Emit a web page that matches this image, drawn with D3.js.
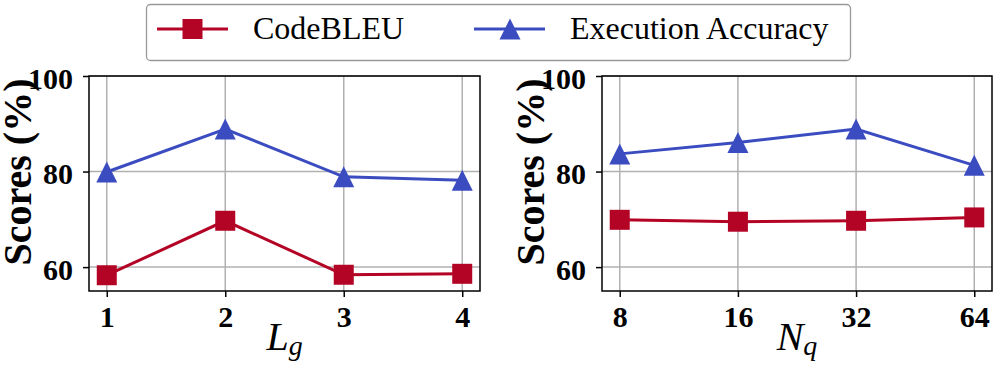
<!DOCTYPE html>
<html>
<meta charset="utf-8">
<head>
<title>CodeBLEU vs Execution Accuracy</title>
<script src="https://cdnjs.cloudflare.com/ajax/libs/d3/7.8.5/d3.min.js"></script>
<style>
  body { margin: 0; background: #fff; }
</style>
</head>
<body>
<script>

const width = 997,
    height = 369;

const serif = '"Liberation Serif", "Times New Roman", serif';

// values
const lgTicks = ["1", "2", "3", "4"];
const lgCodeBLEU = [58.3, 69.7, 58.4, 58.6];
const lgExecAcc = [79.9, 88.9, 78.9, 78.2];

const nqTicks = ["8", "16", "32", "64"];
const nqCodeBLEU = [69.9, 69.5, 69.7, 70.4];
const nqExecAcc = [83.7, 86.1, 88.9, 81.3];

const yTicks = [60, 80, 100];

const red = "#b40426",
    blue = "#3b4cc0";

const svg = d3.select("body")
    .append("svg")
    .attr("width", width)
    .attr("height", height);

// matplotlib-style "^" marker: width = height = s
function trianglePath(s) {
    const h = s / 2;
    return `M0,${-h}L${h},${h}L${-h},${h}Z`;
}

function drawPanel(left, right, ticks, codeBleu, execAcc, mainLabel, subLabel) {
    const top = 76, bottom = 291;

    const x = d3.scaleLinear()
        .domain([-0.15, ticks.length - 1 + 0.15])
        .range([left, right]);
    const y = d3.scaleLinear()
        .domain([55, 100])
        .range([bottom, top]);

    const g = svg.append("g");

    // grid
    g.selectAll(".vgrid")
        .data(ticks)
        .enter()
        .append("line")
        .attr("x1", (d, i) => x(i))
        .attr("x2", (d, i) => x(i))
        .attr("y1", top)
        .attr("y2", bottom)
        .attr("stroke", "#b0b0b0")
        .attr("stroke-width", 1.5);
    g.selectAll(".hgrid")
        .data(yTicks)
        .enter()
        .append("line")
        .attr("x1", left)
        .attr("x2", right)
        .attr("y1", d => y(d))
        .attr("y2", d => y(d))
        .attr("stroke", "#b0b0b0")
        .attr("stroke-width", 1.5);

    // axes
    const xAxis = d3.axisBottom(x)
        .tickValues(d3.range(ticks.length))
        .tickFormat(i => ticks[i])
        .tickSizeInner(6)
        .tickSizeOuter(0);
    const yAxis = d3.axisLeft(y)
        .tickValues(yTicks)
        .tickSizeInner(6)
        .tickSizeOuter(0)
        .tickPadding(10);

    const gx = g.append("g")
        .attr("transform", `translate(0,${bottom})`)
        .call(xAxis);
    const gy = g.append("g")
        .attr("transform", `translate(${left},0)`)
        .call(yAxis);
    for (const a of [gx, gy]) {
        a.attr("font-family", null);
        a.select(".domain").remove();
        a.selectAll("line").attr("stroke", "#000").attr("stroke-width", 1.5);
        a.selectAll("text")
            .style("font-family", serif)
            .style("font-weight", "bold")
            .style("font-size", "30px")
            .attr("fill", "#000");
    }
    gx.selectAll("text").attr("y", 36).attr("dy", 0);
    gy.selectAll("text").attr("dy", 12);

    // frame
    g.append("rect")
        .attr("x", left)
        .attr("y", top)
        .attr("width", right - left)
        .attr("height", bottom - top)
        .attr("fill", "none")
        .attr("stroke", "#000")
        .attr("stroke-width", 1.5);

    const line = d3.line()
        .x((d, i) => x(i))
        .y(d => y(d));

    // CodeBLEU
    g.append("path")
        .datum(codeBleu)
        .attr("d", line)
        .attr("fill", "none")
        .attr("stroke", red)
        .attr("stroke-width", 3);
    g.selectAll(".sq")
        .data(codeBleu)
        .enter()
        .append("rect")
        .attr("x", (d, i) => x(i) - 10)
        .attr("y", d => y(d) - 10)
        .attr("width", 20)
        .attr("height", 20)
        .attr("fill", red);

    // Execution Accuracy
    g.append("path")
        .datum(execAcc)
        .attr("d", line)
        .attr("fill", "none")
        .attr("stroke", blue)
        .attr("stroke-width", 3);
    g.selectAll(".tri")
        .data(execAcc)
        .enter()
        .append("path")
        .attr("d", trianglePath(21))
        .attr("transform", (d, i) => `translate(${x(i)},${y(d)})`)
        .attr("fill", blue);

    // y label
    g.append("text")
        .attr("transform", `translate(${left - 58},172) rotate(-90)`)
        .attr("text-anchor", "middle")
        .style("font-family", serif)
        .style("font-weight", "bold")
        .style("font-size", "40px")
        .text("Scores (%)");

    // x label
    const xl = g.append("text")
        .attr("x", (left + right) / 2)
        .attr("y", 350)
        .attr("text-anchor", "middle")
        .style("font-family", serif)
        .style("font-style", "italic")
        .style("font-size", "40px");
    xl.append("tspan").text(mainLabel);
    xl.append("tspan")
        .attr("dy", 5)
        .style("font-size", "28px")
        .text(subLabel);
}

drawPanel(89, 480, lgTicks, lgCodeBLEU, lgExecAcc, "L", "g");
drawPanel(602, 992, nqTicks, nqCodeBLEU, nqExecAcc, "N", "q");

// legend
const legend = svg.append("g");
legend.append("rect")
    .attr("x", 146.5)
    .attr("y", 4.5)
    .attr("width", 704)
    .attr("height", 56)
    .attr("rx", 4)
    .attr("fill", "#fff")
    .attr("stroke", "#999")
    .attr("stroke-width", 1.3);

const legendItems = [
    {name: "CodeBLEU", colour: red, shape: "square", x: 157, tx: 253},
    {name: "Execution Accuracy", colour: blue, shape: "triangle", x: 474, tx: 570}
];
legendItems.forEach(item => {
    legend.append("line")
        .attr("x1", item.x)
        .attr("x2", item.x + 71)
        .attr("y1", 29)
        .attr("y2", 29)
        .attr("stroke", item.colour)
        .attr("stroke-width", 3);
    if (item.shape === "square") {
        legend.append("rect")
            .attr("x", item.x + 35.5 - 10)
            .attr("y", 19)
            .attr("width", 20)
            .attr("height", 20)
            .attr("fill", item.colour);
    } else {
        legend.append("path")
            .attr("d", trianglePath(21))
            .attr("transform", `translate(${item.x + 36},29)`)
            .attr("fill", item.colour);
    }
    legend.append("text")
        .attr("x", item.tx)
        .attr("y", 39)
        .style("font-family", serif)
        .style("font-size", "32px")
        .text(item.name);
});

</script>
</body>
</html>
